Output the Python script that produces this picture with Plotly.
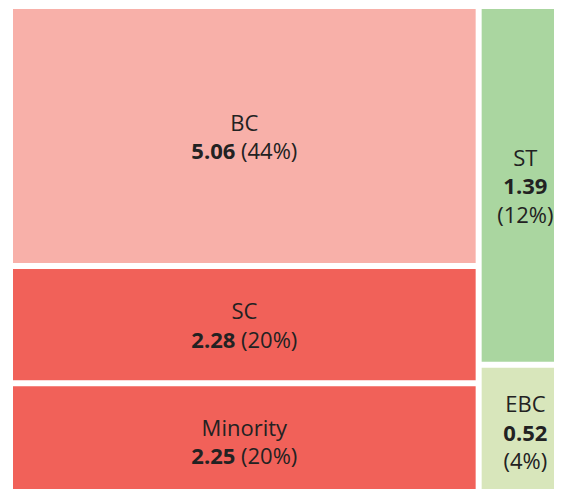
import plotly.graph_objects as go

# Data
categories = ["BC", "SC", "Minority", "ST", "EBC"]
values = [5.06, 2.28, 2.25, 1.39, 0.52]
shares = ["44%", "20%", "20%", "12%", "4%"]
groups = ["left", "left", "left", "right", "right"]
colors = ["#F8B0A9", "#F16159", "#F16159", "#AAD6A0", "#D8E6BB"]

group_ids = ["left", "right"]

ids = group_ids + categories
labels = ["", ""] + categories
parents = ["", ""] + groups
vals = [sum(v for v, g in zip(values, groups) if g == gid) for gid in group_ids] + values
cols = ["#FFFFFF", "#FFFFFF"] + colors

texts = ["", ""]
for c, v, s, g in zip(categories, values, shares, groups):
    if g == "left":
        texts.append(f"{c}<br><b>{v:.2f}</b> ({s})")
    else:
        texts.append(f"{c}<br><b>{v:.2f}</b><br>({s})")

fig = go.Figure(go.Treemap(
    ids=ids,
    labels=labels,
    parents=parents,
    values=vals,
    branchvalues="total",
    sort=False,
    text=texts,
    texttemplate="%{text}",
    textposition="middle center",
    textfont=dict(family="Open Sans", size=22, color="#222222"),
    marker=dict(colors=cols, line=dict(color="#FFFFFF", width=2),
                pad=dict(t=0, l=0, r=0, b=0)),
    tiling=dict(packing="slice-dice", pad=4),
    pathbar=dict(visible=False),
    hoverinfo="skip",
))

fig.update_layout(
    width=562, height=489,
    margin=dict(l=4, r=0, t=0, b=0),
    paper_bgcolor="white",
    plot_bgcolor="white",
)

fig.write_html("out.html")
